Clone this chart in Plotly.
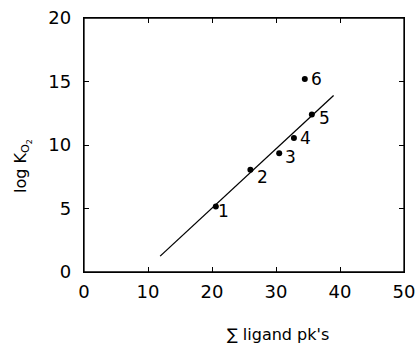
import plotly.graph_objects as go

# Data
ligand_pk = [20.6, 26.0, 30.5, 32.8, 35.6, 34.5]
log_k_o2 = [5.15, 8.05, 9.35, 10.55, 12.4, 15.2]
point_labels = ["1", "2", "3", "4", "5", "6"]
fit_x = [11.9, 39.0]
fit_y = [1.25, 13.9]
x_ticks = [0, 10, 20, 30, 40, 50]
y_ticks = [0, 5, 10, 15, 20]

# label offsets (styling, pixels)
label_dx = [8, 12, 11, 12, 13, 12]
label_dy = [-4, -7, -4, 0, -3, 0]

FONT = "DejaVu Sans"

fig = go.Figure()
fig.add_trace(go.Scatter(x=fit_x, y=fit_y, mode="lines",
                         line=dict(color="black", width=1.3), showlegend=False))
fig.add_trace(go.Scatter(x=ligand_pk, y=log_k_o2, mode="markers",
                         marker=dict(color="black", size=6), showlegend=False))

for x, y, t, dx, dy in zip(ligand_pk, log_k_o2, point_labels, label_dx, label_dy):
    fig.add_annotation(x=x, y=y, text=t, showarrow=False, xanchor="center",
                       yanchor="middle", xshift=dx, yshift=dy,
                       font=dict(family=FONT, size=17, color="black"))

fig.add_annotation(xref="paper", yref="paper", x=0.606, y=-0.245,
                   text="∑ ligand pk's", showarrow=False, xanchor="center",
                   yanchor="middle", font=dict(family=FONT, size=16, color="black"))
fig.add_annotation(xref="paper", yref="paper", x=-0.194, y=0.417,
                   text="log K<sub>O<sub>2</sub></sub>", showarrow=False, textangle=-90,
                   xanchor="center", yanchor="middle",
                   font=dict(family=FONT, size=16, color="black"))

# plot frame
fig.add_shape(type="rect", xref="paper", yref="paper", x0=0, y0=0, x1=1, y1=1,
              line=dict(color="black", width=1.3), layer="above")

axis_common = dict(showgrid=False, zeroline=False, showline=True, linecolor="black",
                   linewidth=1.3, mirror="ticks", ticks="inside", ticklen=5,
                   tickcolor="black", tickwidth=1.2, automargin=False,
                   tickfont=dict(family=FONT, size=18, color="black"))

fig.update_xaxes(range=[0, 50], tickvals=x_ticks, ticktext=[str(v) for v in x_ticks],
                 ticklabelstandoff=3, **axis_common)
fig.update_yaxes(range=[0, 20], tickvals=y_ticks, ticktext=[str(v) for v in y_ticks],
                 ticklabelstandoff=8, **axis_common)

fig.update_layout(width=418, height=347, plot_bgcolor="white", paper_bgcolor="white",
                  margin=dict(l=84, r=14, t=18, b=75))

fig.write_html(
    "out.html",
    config={"displayModeBar": False},
    post_script="document.body.style.margin='0';document.body.style.overflow='hidden';window.scrollTo(0,0);",
)
